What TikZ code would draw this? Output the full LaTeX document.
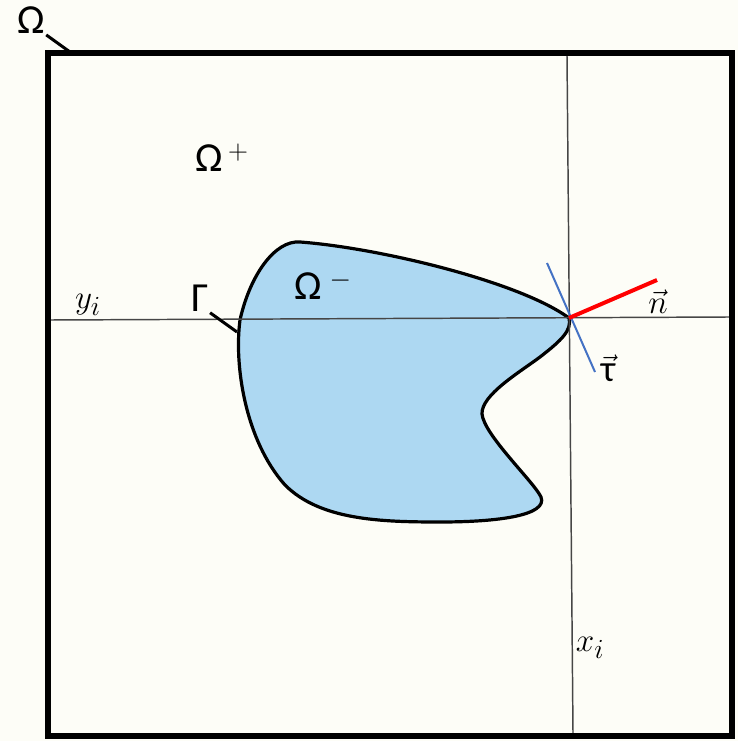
\documentclass[tikz,border=0pt]{standalone}
\usepackage{fontspec}
\setmainfont{Carlito}

\definecolor{bgivory}{RGB}{253,253,247}
\definecolor{regionblue}{RGB}{173,216,242}
\definecolor{tanblue}{RGB}{68,114,196}
\definecolor{axisgray}{RGB}{70,70,70}

\tikzset{every picture/.style={line width=0.75pt}}
\tikzset{
  grlabel/.style={inner sep=0.75pt, font=\fontsize{31}{34}\selectfont},
  mathlabel/.style={inner sep=0.75pt, font=\fontsize{28}{32}\selectfont},
  axisline/.style={color=axisgray, line width=1.1pt},
  leader/.style={line width=2.25pt}
}

\begin{document}
\begin{tikzpicture}[x=0.75pt,y=0.75pt,yscale=-1,xscale=1]
%set diagram to 738 x 741
\path [fill=bgivory] (0,0) rectangle (738,741);
\useasboundingbox (0,0) rectangle (738,741);

%Points
\coordinate (tip) at (569,318);
\coordinate (nEnd) at (657,280);
\coordinate (tauA) at (547,263);
\coordinate (tauB) at (595,372);
\coordinate (yLeft) at (50,320);
\coordinate (yRight) at (729,317);
\coordinate (xTop) at (567,56);
\coordinate (xBot) at (573,733);
\coordinate (omTick) at (70,52);
\coordinate (gaTick) at (237,332);

%Shape: Free Drawing [region Omega minus]
\draw [line width=2.4pt, fill=regionblue] (tip) .. controls (520,282) and (380,248) .. (300,242)
  .. controls (275,240) and (250,275) .. (240,320)
  .. controls (234,365) and (245,440) .. (285,485)
  .. controls (320,520) and (380,522) .. (440,522)
  .. controls (500,522) and (548,515) .. (541,497)
  .. controls (534,482) and (484,435) .. (482,414)
  .. controls (481,395) and (520,372) .. (540,357)
  .. controls (562,340) and (572,330) .. (tip) -- cycle ;
%Straight Lines [axes]
\draw [axisline] (yLeft) -- (yRight) ;
\draw [axisline] (xTop) -- (xBot) ;
%Straight Lines [tangent]
\draw [color=tanblue, line width=1.5pt] (tauA) -- (tauB) ;
%Straight Lines [normal]
\draw [color=red, line width=3pt] (tip) -- (nEnd) ;
%Shape: Rectangle [Omega]
\draw [line width=5pt] (48,53) rectangle (732,736) ;

% Text Node
\draw (31,20) node (omega) [grlabel] {Ω};
% Text Node
\draw (222,158) node (omegaP) [grlabel] {Ω\kern4pt$^{+}$};
% Text Node
\draw (323,285) node (omegaM) [grlabel] {Ω\kern6pt$^{-}$};
% Text Node
\draw (200,298) node (gamma) [grlabel] {Γ};
% Text Node
\draw (88,305) node (yi) [mathlabel] {$y_i$};
% Text Node
\draw (590,648) node (xi) [mathlabel] {$x_i$};
% Text Node
\draw (658,302) node (nvec) [mathlabel] {$\vec{n}$};
% Text Node
\draw (608,368) node (tauvec) [mathlabel] {$\vec{\hbox{τ}}$};

%Straight Lines [leaders]
\draw [leader] (omega.south east) -- (omTick) ;
\draw [leader] (gamma.south east) -- (gaTick) ;

\end{tikzpicture}
\end{document}
